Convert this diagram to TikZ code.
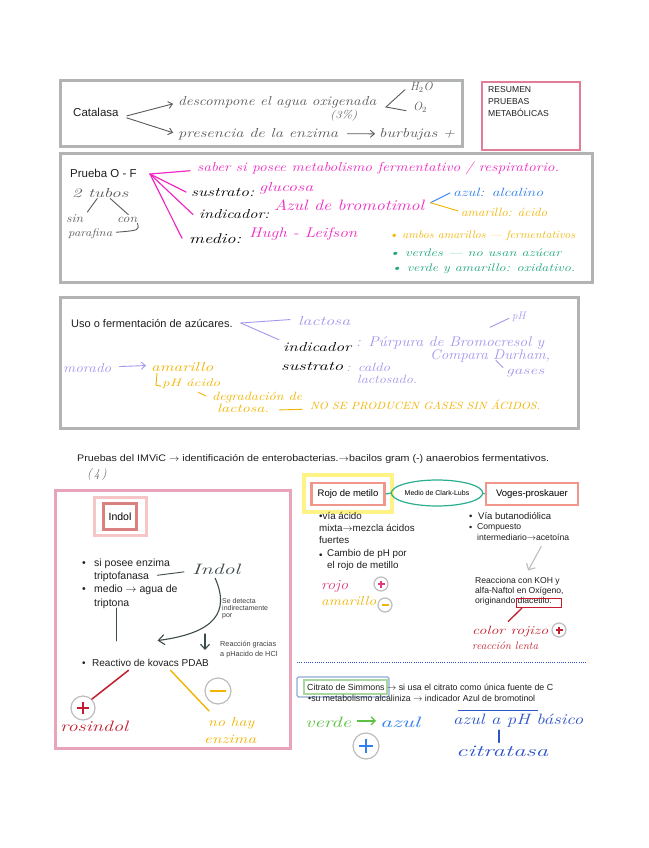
\documentclass[tikz,border=0pt]{standalone}
\usepackage{fontspec}
\usepackage{graphicx}
\setsansfont{Liberation Sans}
\usetikzlibrary{arrows.meta,calc,shapes.geometric}
\definecolor{boxgray}{HTML}{B2B4B4}
\definecolor{mag}{HTML}{F02CC4}
\definecolor{hblue}{HTML}{2F7FF0}
\definecolor{hyel}{HTML}{F2B400}
\definecolor{hgreen}{HTML}{1FA67E}
\definecolor{lav}{HTML}{A696EE}
\definecolor{hred}{HTML}{C41E2E}
\definecolor{pinkb}{HTML}{E27C98}
\definecolor{indolb}{HTML}{E9A4BA}
\definecolor{indolo}{HTML}{F6C6C6}
\definecolor{indoli}{HTML}{D98080}
\definecolor{salmon}{HTML}{F0968A}
\definecolor{ylbox}{HTML}{FFF386}
\definecolor{tealc}{HTML}{2AAE90}
\definecolor{dgray}{HTML}{3E4B4B}
\definecolor{hgray}{HTML}{5A5A5A}
\definecolor{vgreen}{HTML}{5CC040}
\definecolor{dblue}{HTML}{2F55C8}
\definecolor{circgray}{HTML}{BDBDBD}
\definecolor{rosy}{HTML}{E23C7E}
\definecolor{citblue}{HTML}{8FA8D8}
\definecolor{citgreen}{HTML}{A8D8A0}
\newcommand\fsz[1]{\fontsize{#1}{#1}\selectfont}
\newcommand\W[2]{\resizebox{#1pt}{\height}{#2}}
\begin{document}
\begin{tikzpicture}[x=1pt,y=-1pt,
  typed/.style={font=\sffamily, inner sep=0pt, anchor=base west, text=black!88},
  hw/.style={font=\itshape, inner sep=0pt, anchor=base west},
  hl/.style={line width=0.9pt, line cap=round},
  harr/.style={hl, -{Straight Barb[length=4pt,width=7pt]}},
  gbox/.style={draw=boxgray, line width=3pt},
  circ/.style={draw=circgray, line width=1.2pt, circle, inner sep=0pt}]
\useasboundingbox (0,0) rectangle (648,848);
\fill[white] (0,0) rectangle (648,848);

% ---------------- Catalasa
\draw[gbox] (60,81) rectangle (462,146);
\node[typed, font=\sffamily\fsz{11.5}] (cat) at (73,117) {Catalasa};
\node[hw, text=hgray, font=\itshape\fsz{13}] (desc) at (178,106) {\W{198}{descompone el agua oxigenada}};
\node[hw, text=hgray, font=\itshape\fsz{11}] (pct) at (330,119) {\W{27}{(3\%)}};
\node[hw, text=hgray, font=\itshape\fsz{12}] (h2o) at (410,91) {H$_2$O};
\node[hw, text=hgray, font=\itshape\fsz{12}] (o2) at (413,111) {O$_2$};
\coordinate (lt) at (386,107);
\draw[hl, hgray] ($(h2o.west)+(-5,2)$) -- (lt) -- ($(o2.west)+(-7,3)$);
\draw[harr, hgray] ($(cat.east)+(8,3)$) -- ($(desc.west)+(-5,1)$);
\node[hw, text=hgray, font=\itshape\fsz{13}] (pres) at (178,137) {\W{160}{presencia de la enzima}};
\draw[harr, hgray] ($(cat.east)+(8,5)$) -- ($(pres.west)+(-5,-1)$);
\node[hw, text=hgray, font=\itshape\fsz{13}] (burb) at (379,137) {\W{76}{burbujas +}};
\draw[harr, hgray] ($(pres.east)+(9,0)$) -- ($(burb.west)+(-4,0)$);

% ---------------- Resumen
\draw[pinkb, line width=1.2pt] (482,82) rectangle (580,150);
\node[typed, anchor=north west, align=left, font=\sffamily\fontsize{8.6}{12}\selectfont] (res) at (488,86) {RESUMEN\\PRUEBAS\\METABÓLICAS};

% ---------------- Prueba O-F
\draw[gbox] (60,153) rectangle (592,282);
\node[typed, font=\sffamily\fsz{11.5}] (pof) at (70,177) {Prueba O - F};
\node[hw, text=hgray, font=\itshape\fsz{13}] (tubos) at (72,197) {\W{56}{2 tubos}};
\node[hw, text=hgray, font=\itshape\fsz{12}] (sin) at (66,222) {\W{17}{sin}};
\node[hw, text=hgray, font=\itshape\fsz{12}] (con) at (117,222) {\W{20}{con}};
\node[hw, text=hgray, font=\itshape\fsz{11}] (paraf) at (68,236) {\W{44}{parafina}};
\draw[hl, hgray] ($(tubos.south)+(-3,1)$) -- ($(sin.north east)+(4,-2)$);
\draw[hl, hgray] ($(tubos.south)+(10,1)$) -- ($(con.north)+(1,-2)$);
\draw[hl, hgray] ($(con.south east)+(0,1)$) .. controls ($(con.south east)+(2,8)$) .. ($(paraf.east)+(4,-1)$);

\coordinate (fan) at (150,174);
\node[hw, text=mag, font=\itshape\fsz{13}] (saber) at (197,171) {\W{362}{saber si posee metabolismo fermentativo / respiratorio.}};
\node[hw, text=black, font=\itshape\fsz{13}] (sus) at (191,196) {\W{63}{sustrato:}};
\node[hw, text=mag, font=\itshape\fsz{13}] (glu) at (259,191) {\W{54}{glucosa}};
\node[hw, text=black, font=\itshape\fsz{13}] (ind) at (199,218) {\W{70}{indicador:}};
\node[hw, text=mag, font=\itshape\fsz{15}] (azbr) at (274,210) {\W{150}{Azul de bromotimol}};
\node[hw, text=black, font=\itshape\fsz{14}] (med) at (189,243) {\W{52}{medio:}};
\node[hw, text=mag, font=\itshape\fsz{14}] (hl) at (249,237) {\W{108}{Hugh - Leifson}};
\draw[hl, mag, line width=1.2pt] (fan) -- ($(saber.west)+(-7,3)$);
\draw[hl, mag, line width=1.2pt] (fan) -- ($(sus.west)+(-5,0)$);
\draw[hl, mag, line width=1.2pt] (fan) -- ($(ind.west)+(-6,1)$);
\draw[hl, mag, line width=1.2pt] (fan) -- ($(med.west)+(-7,0)$);

\coordinate (fk) at ($(azbr.east)+(6,-2)$);
\node[hw, text=hblue, font=\itshape\fsz{12}] (alc) at (453,196) {\W{90}{azul: alcalino}};
\node[hw, text=hyel, font=\itshape\fsz{12}] (aci) at (461,216) {\W{86}{amarillo: ácido}};
\draw[hl, hblue] (fk) -- ($(alc.west)+(-3,1)$);
\draw[hl, hyel] (fk) -- ($(aci.west)+(-3,-1)$);

\node[hw, text=hyel, font=\itshape\fsz{11}] (b1) at (389,238) {\W{186}{\textbullet\ ambos amarillos --- fermentativos}};
\node[hw, text=hgreen, font=\itshape\fsz{11}] (b2) at (389,256) {\W{172}{\textbullet\ verdes --- no usan azúcar}};
\node[hw, text=hgreen, font=\itshape\fsz{11}] (b3) at (391,271) {\W{184}{\textbullet\ verde y amarillo: oxidativo.}};

% ---------------- Uso o fermentacion
\draw[gbox] (60,297) rectangle (578,428);
\node[typed, font=\sffamily\fsz{11}] (uso) at (71,327) {Uso o fermentación de azúcares.};
\coordinate (uf) at ($(uso.east)+(8,0)$);
\node[hw, text=lav, font=\itshape\fsz{13}] (lac) at (298,325) {\W{52}{lactosa}};
\node[hw, text=black, font=\itshape\fsz{13}] (indi) at (283,351) {\W{68}{indicador}};
\node[hw, text=lav, font=\itshape\fsz{14}] (purp) at (356,346) {\W{188}{: Púrpura de Bromocresol y}};
\node[hw, text=lav, font=\itshape\fsz{11}] (ph1) at (512,319) {pH};
\draw[hl, lav] ($(ph1.west)+(-3,2)$) -- ($(ph1.west)+(-22,11)$);
\node[hw, text=lav, font=\itshape\fsz{14}] (durh) at (430,359) {\W{120}{Compara Durham,}};
\node[hw, text=lav, font=\itshape\fsz{12}] (gas) at (506,374) {\W{38}{gases}};
\draw[hl, lav] ($(gas.north west)+(-10,-8)$) -- ($(gas.north west)+(-3,-1)$);
\node[hw, text=black, font=\itshape\fsz{13}] (sus2) at (281,370) {\W{62}{sustrato}};
\node[hw, text=lav, font=\itshape\fsz{12}] (cal) at (346,371) {\W{44}{: caldo}};
\node[hw, text=lav, font=\itshape\fsz{12}] (lact2) at (357,383) {\W{60}{lactosado.}};
\draw[hl, lav] (uf) -- ($(lac.west)+(-8,-1)$);
\draw[hl, lav] (uf) -- ($(indi.north west)+(-4,-2)$);

\node[hw, text=lav, font=\itshape\fsz{13}] (mor) at (63,372) {\W{48}{morado}};
\node[hw, text=hyel, font=\itshape\fsz{13}] (amr) at (151,371) {\W{62}{amarillo}};
\draw[harr, lav] ($(mor.east)+(8,-1)$) -- ($(amr.west)+(-5,-1)$);
\node[hw, text=hyel, font=\itshape\fsz{11}] (pha) at (162,386) {\W{58}{pH ácido}};
\draw[hl, hyel] ($(pha.west)+(-5,-10)$) -- ($(pha.west)+(-6,2)$) -- ($(pha.west)+(-1,3)$);
\node[hw, text=hyel, font=\itshape\fsz{12}] (deg) at (212,400) {\W{90}{degradación de}};
\draw[hl, hyel] ($(pha.south)+(7,4)$) -- ($(deg.west)+(-6,-1)$);
\node[hw, text=hyel, font=\itshape\fsz{12}] (lac3) at (217,412) {\W{52}{lactosa.}};
\node[hw, text=hyel, font=\itshape\fsz{10.5}] (nose) at (310,409) {\W{230}{NO SE PRODUCEN GASES SIN ÁCIDOS.}};
\draw[hl, hyel] ($(lac3.east)+(10,2)$) -- ($(nose.west)+(-8,5)$);

% ---------------- IMViC
\node[typed, font=\sffamily\fsz{9.5}] (imv) at (77,461) {\W{472}{Pruebas del IMViC $\rightarrow$ identificación de enterobacterias.$\rightarrow$bacilos gram (-) anaerobios fermentativos.}};
\node[hw, text=hgray, font=\itshape\fsz{12}] (four) at (87,477) {(\,4\,)};

% ---------------- Indol
\draw[indolb, line width=3pt] (55,490) rectangle (290,748);
\draw[indolo, line width=3pt] (94,497) rectangle (146,535);
\node[draw=indoli, line width=2.5pt, minimum width=33pt, minimum height=26pt, inner sep=0pt, font=\sffamily\fsz{10.5}] (indt) at (120,516.5) {Indol};
\node[typed, font=\sffamily\fsz{10.5}] (bu1) at (82,566) {\textbullet};
\node[typed, font=\sffamily\fsz{10.5}] (t1) at (94,566) {si posee enzima};
\node[typed, font=\sffamily\fsz{10.5}] (t2) at (94,579) {triptofanasa};
\node[typed, font=\sffamily\fsz{10.5}] (bu2) at (82,592) {\textbullet};
\node[typed, font=\sffamily\fsz{10.5}] (t3) at (94,592) {medio $\rightarrow$ agua de};
\node[typed, font=\sffamily\fsz{10.5}] (t4) at (94,606) {triptona};
\node[hw, text=dgray, font=\itshape\fsz{15}] (indh) at (192,574) {\W{48}{Indol}};
\draw[hl, dgray] ($(t2.east)+(8,-1)$) -- ($(indh.west)+(-8,3)$);
\node[typed, font=\sffamily\fsz{10}] (bu3) at (82,666) {\textbullet};
\node[typed, font=\sffamily\fsz{10}] (kov) at (92,666) {Reactivo de kovacs PDAB};
\coordinate (vtop) at (116,608);
\draw[hl, dgray] (vtop) -- (116,641);
\coordinate (ck) at (205,634);
\draw[hl, dgray, line width=1.1pt, -{Straight Barb[length=6pt,width=10pt]}] ($(indh.south)+(-1,4)$) .. controls (230,612) and (215,633) .. ($(kov.north)+(7,-18)$);
\draw[hl, dgray, line width=1.1pt, -{Straight Barb[length=5pt,width=9pt]}] (ck) -- (205,650);
\node[typed, font=\sffamily\fsz{7}, text=black!75, anchor=north west, align=left] (sedet) at (222,598) {Se detecta\\indirectamente\\por};
\node[typed, font=\sffamily\fontsize{7.3}{9.5}\selectfont, text=black!75, anchor=north west, align=left] (reac) at (220,641) {Reacción gracias\\a pHacido de HCl};

\node[circ, minimum size=24pt] (cp1) at (83,708) {};
\draw[hred, line width=1.6pt] ($(cp1.center)+(-6,0)$) -- ($(cp1.center)+(6,0)$) ($(cp1.center)+(0,-6)$) -- ($(cp1.center)+(0,6)$);
\draw[hl, hred, line width=1.5pt] ($(kov.south)+(-22,4)$) -- (cp1.north east);
\node[hw, text=hred, font=\itshape\fsz{15}] (ros) at (60,731) {\W{68}{rosindol}};
\node[circ, minimum size=26pt] (cm1) at (218,691) {};
\draw[hyel, line width=1.6pt] ($(cm1.center)+(-8,0)$) -- ($(cm1.center)+(8,0)$);
\draw[hl, hyel, line width=1.4pt] ($(kov.south)+(20,4)$) -- (209,711);
\node[hw, text=hyel, font=\itshape\fsz{13}] (nohay) at (208,726) {\W{46}{no hay}};
\node[hw, text=hyel, font=\itshape\fsz{13}] (enz) at (204,743) {\W{52}{enzima}};

% ---------------- Rojo de metilo / VP
\draw[ylbox, line width=3.5pt] (304,475) rectangle (392,512);
\node[draw=salmon, line width=2.5pt, minimum width=73pt, minimum height=22pt, inner sep=0pt, font=\sffamily\fsz{9.5}] (rm) at (348,494) {Rojo de metilo};
\node[draw=tealc, line width=1.2pt, ellipse, minimum width=82pt, minimum height=26pt, inner sep=0pt, font=\sffamily\fsz{7}] (clark) at (437,493) {Medio de Clark-Lubs};
\node[draw=salmon, line width=2.5pt, minimum width=92pt, minimum height=22pt, inner sep=0pt, font=\sffamily\fsz{9.5}] (vp) at (532,494) {Voges-proskauer};
\draw[tealc, line width=1.2pt] (rm.east) -- (clark.west);
\draw[tealc, line width=1.2pt] (clark.east) -- (vp.west);

\node[typed, font=\sffamily\fontsize{9.8}{12.2}\selectfont, anchor=north west, align=left] (rmt) at (319,512) {\textbullet vía ácido\\mixta$\rightarrow$mezcla ácidos\\fuertes};
\node[typed, font=\sffamily\fsz{9.8}] (bu4) at (319,558) {\textbullet};
\node[typed, font=\sffamily\fontsize{9.8}{12.2}\selectfont, anchor=north west, align=left] (rmt2) at (327,549) {Cambio de pH por\\el rojo de metillo};
\node[hw, text=rosy, font=\itshape\fsz{14}] (rojo) at (321,589) {\W{27}{rojo}};
\node[circ, minimum size=14pt] (cp2) at (381,584) {};
\draw[rosy, line width=1.3pt] ($(cp2.center)+(-3.5,0)$) -- ($(cp2.center)+(3.5,0)$) ($(cp2.center)+(0,-3.5)$) -- ($(cp2.center)+(0,3.5)$);
\node[hw, text=hyel, font=\itshape\fsz{13}] (ama2) at (321,605) {\W{55}{amarillo}};
\node[circ, minimum size=14pt] (cm2) at (385,605) {};
\draw[hyel, line width=1.3pt] ($(cm2.center)+(-3.5,0)$) -- ($(cm2.center)+(3.5,0)$);

\node[typed, font=\sffamily\fsz{9.5}] (bu5) at (469,519) {\textbullet};
\node[typed, font=\sffamily\fsz{9.5}] (vb) at (478,519) {Vía butanodiólica};
\node[typed, font=\sffamily\fsz{9}] (bu6) at (469,530) {\textbullet};
\node[typed, font=\sffamily\fontsize{8.6}{11}\selectfont, anchor=north west, align=left] (comp) at (477,523) {Compuesto\\intermediario$\rightarrow$acetoína};
\draw[hl, circgray, line width=1.1pt, -{Straight Barb[length=5pt,width=10pt]}] ($(comp.south)+(18,6)$) -- ($(comp.south)+(5,30)$);
\node[typed, font=\sffamily\fontsize{8.6}{10.2}\selectfont, anchor=north west, align=left] (koh) at (475,577) {Reacciona con KOH y\\alfa-Naftol en Oxígeno,\\originando diacetilo.};
\draw[hred, line width=1pt] (516,598) rectangle (561,607.5);
\node[hw, text=hred, font=\itshape\fsz{12}] (crj) at (472,634) {\W{76}{color rojizo}};
\draw[hl, hred, line width=1.3pt] (522,608) -- ($(crj.north)+(-2,-4)$);
\node[circ, minimum size=14pt] (cp3) at (559,630) {};
\draw[hred, line width=1.3pt] ($(cp3.center)+(-3.5,0)$) -- ($(cp3.center)+(3.5,0)$) ($(cp3.center)+(0,-3.5)$) -- ($(cp3.center)+(0,3.5)$);
\node[hw, text=hred, font=\itshape\fsz{11}] (rlen) at (472,649) {\W{66}{reacción lenta}};

% ---------------- Citrato
\coordinate (dl) at (297,662);
\coordinate (dr) at (586,662);
\draw[dblue, line width=1pt, dash pattern=on 1pt off 1.2pt] (dl) -- (dr);
\draw[citblue, line width=1.2pt, rounded corners=1.5pt] (297,677) rectangle (389,697);
\draw[citgreen, line width=1.2pt] (304,680) rectangle (387,694);
\node[typed, font=\sffamily\fsz{8.8}] (cit) at (307,690) {\W{246}{Citrato de Simmons $\rightarrow$ si usa el citrato como única fuente de C}};
\node[typed, font=\sffamily\fsz{8.8}] (sumet) at (308,701) {\W{227}{\textbullet su metabolismo alcaliniza $\rightarrow$ indicador Azul de bromotinol}};
\draw[dblue, line width=1pt] ($(sumet.base east)+(-77,9)$) -- ($(sumet.base east)+(3,9)$);
\node[hw, text=vgreen, font=\itshape\fsz{15}] (verde) at (305,727) {\W{46}{verde}};
\node[hw, text=hblue, font=\itshape\fsz{15}] (azul) at (380,727) {\W{40}{azul}};
\draw[hl, vgreen, line width=1.3pt, -{Straight Barb[length=4pt,width=8pt]}] ($(verde.east)+(6,-1)$) -- ($(azul.west)+(-4,-1)$);
\node[circ, minimum size=26pt] (cp4) at (366,746) {};
\draw[hblue, line width=1.4pt] ($(cp4.center)+(-7,0)$) -- ($(cp4.center)+(7,0)$) ($(cp4.center)+(0,-7)$) -- ($(cp4.center)+(0,7)$);
\node[hw, text=dblue, font=\itshape\fsz{15}] (apb) at (453,724) {\W{130}{azul a pH básico}};
\node[hw, text=dblue, font=\itshape\fsz{16}] (citr) at (456,756) {\W{92}{citratasa}};
\draw[hl, dblue, line width=1.2pt] ($(apb.south west)+(46,3)$) -- ($(citr.north west)+(43,-3)$);
\end{tikzpicture}
\end{document}
